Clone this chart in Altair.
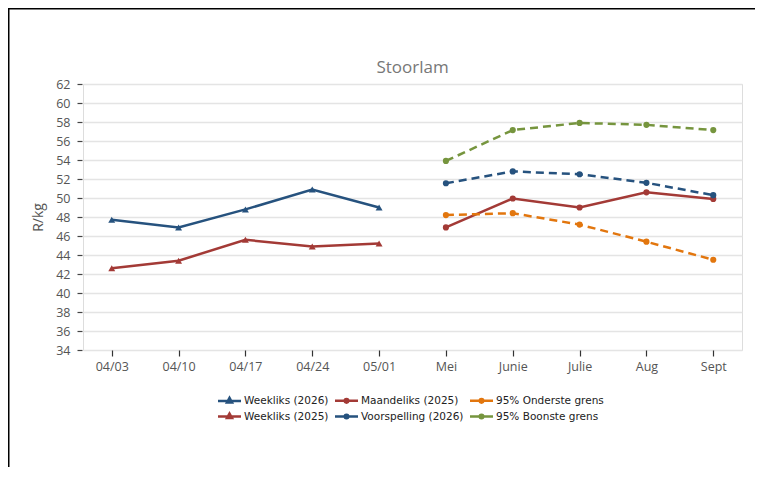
import altair as alt
import pandas as pd

categories = ["04/03", "04/10", "04/17", "04/24", "05/01", "Mei", "Junie", "Julie", "Aug", "Sept"]
weekly_cats = ["04/03", "04/10", "04/17", "04/24", "05/01"]
month_cats = ["Mei", "Junie", "Julie", "Aug", "Sept"]

weekliks_2026 = [47.7, 46.9, 48.8, 50.9, 49.0]
weekliks_2025 = [42.6, 43.4, 45.6, 44.9, 45.2]
maandeliks_2025 = [46.9, 49.95, 49.0, 50.6, 49.9]
voorspelling_2026 = [51.55, 52.8, 52.5, 51.6, 50.3]
onderste_grens = [48.2, 48.4, 47.2, 45.4, 43.5]
boonste_grens = [53.9, 57.15, 57.9, 57.7, 57.15]

series_names = ["Weekliks (2026)", "Maandeliks (2025)", "95% Onderste grens",
                "Weekliks (2025)", "Voorspelling (2026)", "95% Boonste grens"]
series_colors = ["#26527E", "#A33A36", "#E2760E", "#A33A36", "#26527E", "#76953E"]

tri = "M-2.3,0H2.3M0,-0.6L0.5,0.32L-0.5,0.32Z"
circ = "M-2.3,0H2.3M0.36,0A0.36,0.36,0,1,1,-0.36,0A0.36,0.36,0,1,1,0.36,0Z"
series_shapes = [tri, circ, circ, tri, circ, circ]

rows = []
def add(name, cats, vals, style, marker):
    for c, v in zip(cats, vals):
        rows.append({"cat": c, "value": v, "series": name, "style": style, "marker": marker})

add("Weekliks (2026)", weekly_cats, weekliks_2026, "solid", "tri")
add("Weekliks (2025)", weekly_cats, weekliks_2025, "solid", "tri")
add("Maandeliks (2025)", month_cats, maandeliks_2025, "solid", "circ")
add("Voorspelling (2026)", month_cats, voorspelling_2026, "dash", "circ")
add("95% Onderste grens", month_cats, onderste_grens, "dash", "circ")
add("95% Boonste grens", month_cats, boonste_grens, "dash", "circ")
df = pd.DataFrame(rows)

legend_df = pd.DataFrame({"cat": [categories[0]] * 6, "value": [0] * 6, "series": series_names})

x_enc = alt.X("cat:N", sort=categories,
              scale=alt.Scale(type="point", domain=categories, padding=0.43),
              axis=alt.Axis(title=None, labelAngle=0, grid=False, domain=False,
                            ticks=True, tickSize=6, tickColor="#333", tickWidth=1.2,
                            labelPadding=4, labelFontSize=12.5, labelColor="#555",
                            labelFont="Open Sans"))
y_enc = alt.Y("value:Q",
              scale=alt.Scale(domain=[34, 62], nice=False, zero=False),
              axis=alt.Axis(title="R/kg", values=list(range(34, 63, 2)), domain=False,
                            tickSize=5, tickColor="#444", tickWidth=1.2, offset=1,
                            labelPadding=7, labelFontSize=12.5, labelColor="#555",
                            labelFont="Open Sans", titleFont="Open Sans",
                            titleFontSize=14, titleFontWeight="normal", titleColor="#555",
                            titlePadding=10, gridColor="#e4e4e4", gridWidth=1.5))

color_scale = alt.Scale(domain=series_names, range=series_colors)
legend = alt.Legend(title=None, orient="none", legendX=140, legendY=310,
                    direction="horizontal", columns=3,
                    labelFont="DejaVu Sans", labelFontSize=10.5, labelColor="#222",
                    symbolSize=100, symbolStrokeWidth=2.5, labelOffset=8,
                    columnPadding=1, rowPadding=0)
color_enc = alt.Color("series:N", scale=color_scale, legend=legend)

legend_layer = alt.Chart(legend_df).mark_point(filled=False, opacity=1, clip=True).encode(
    x=x_enc, y=y_enc, color=color_enc,
    shape=alt.Shape("series:N", scale=alt.Scale(domain=series_names, range=series_shapes), legend=legend),
)

solid_lines = alt.Chart(df).transform_filter(alt.datum.style == "solid").mark_line(
    strokeWidth=2.5).encode(x=x_enc, y=y_enc, color=color_enc, detail="series:N")
dash_lines = alt.Chart(df).transform_filter(alt.datum.style == "dash").mark_line(
    strokeWidth=2.5, strokeDash=[8, 5]).encode(x=x_enc, y=y_enc, color=color_enc, detail="series:N")

tri_points = alt.Chart(df).transform_filter(alt.datum.marker == "tri").mark_point(
    shape="triangle-up", filled=True, size=48, opacity=1).encode(x=x_enc, y=y_enc, color=color_enc)
circ_points = alt.Chart(df).transform_filter(alt.datum.marker == "circ").mark_point(
    shape="circle", filled=True, size=38, opacity=1).encode(x=x_enc, y=y_enc, color=color_enc)

frame_df = pd.DataFrame({"k": [0]})
frame_top = alt.Chart(frame_df).mark_rule(color="black", strokeWidth=3, clip=False).encode(
    x=alt.value(-76), x2=alt.value(700), y=alt.value(-76))
frame_left = alt.Chart(frame_df).mark_rule(color="black", strokeWidth=3, clip=False).encode(
    x=alt.value(-75), y=alt.value(-77), y2=alt.value(383))

chart = alt.layer(legend_layer, solid_lines, dash_lines, tri_points, circ_points,
                  frame_top, frame_left).properties(
    width=659, height=266,
    title=alt.TitleParams("Stoorlam", font="Open Sans", fontSize=17, fontWeight="normal",
                          color="#777", anchor="middle", offset=-71.5),
    autosize=alt.AutoSizeParams(type="none"),
    padding={"left": 75, "top": 76, "right": 13, "bottom": 118},
).configure_view(stroke=None).configure(background="white")

chart.save("out.html", embed_options={"renderer": "svg", "actions": False})
